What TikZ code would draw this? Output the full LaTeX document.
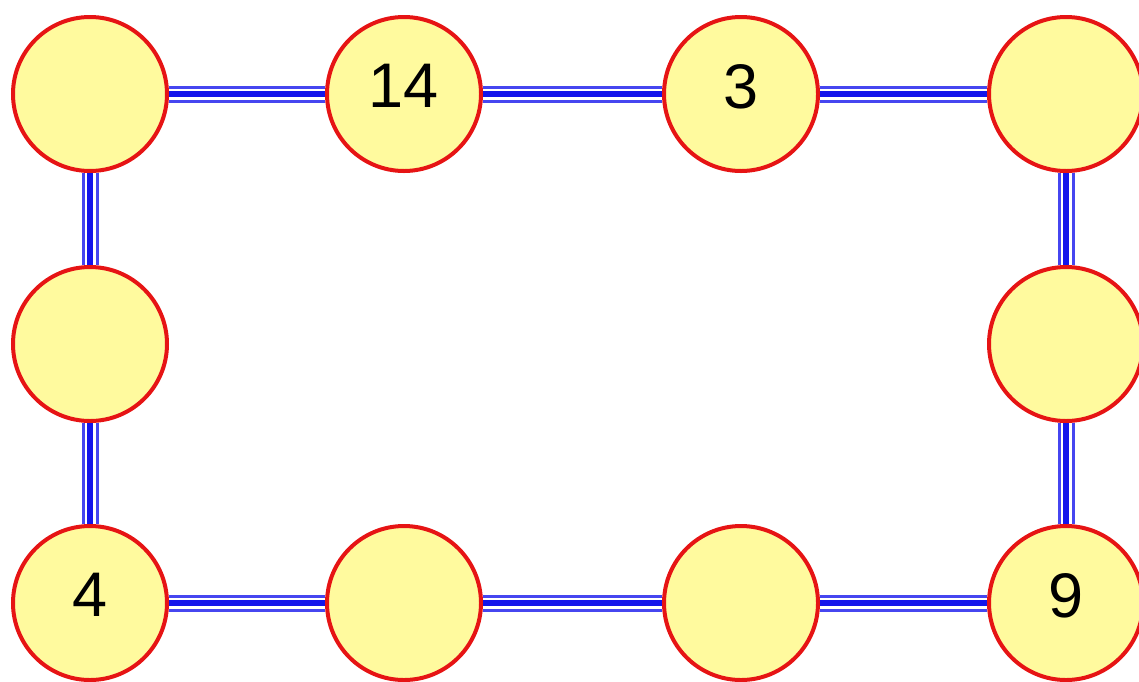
\documentclass[tikz,border=0pt]{standalone}
\usepackage{fontspec}
\setmainfont{Liberation Sans}
\definecolor{cfill}{RGB}{255,250,158}
\definecolor{cred}{RGB}{230,20,20}
\definecolor{cblue}{RGB}{20,20,235}
\definecolor{clblue}{RGB}{70,70,240}
\begin{document}
\begin{tikzpicture}[x=1pt,y=-1pt,
  cell/.style={circle, draw=cred, line width=4pt, fill=cfill, minimum size=154pt, inner sep=0pt,
    text depth=16pt, font=\fontsize{63}{70}\selectfont},
  conn/.style={draw=clblue, line width=17pt,
    postaction={draw=white, line width=11pt},
    postaction={draw=cblue, line width=6pt}}]
\useasboundingbox (0,0) rectangle (1139,681);
\node[cell] (a1) at (90,94) {};
\node[cell] (a2) at (404,94) {14};
\node[cell] (a3) at (741,94) {3};
\node[cell] (a4) at (1066,94) {};
\node[cell] (b1) at (90,344) {};
\node[cell] (b4) at (1066,344) {};
\node[cell] (c1) at (90,603) {4};
\node[cell] (c2) at (404,603) {};
\node[cell] (c3) at (741,603) {};
\node[cell] (c4) at (1066,603) {9};
\path[conn] (a1) -- (a2);
\path[conn] (a2) -- (a3);
\path[conn] (a3) -- (a4);
\path[conn] (a4) -- (b4);
\path[conn] (b4) -- (c4);
\path[conn] (c4) -- (c3);
\path[conn] (c3) -- (c2);
\path[conn] (c2) -- (c1);
\path[conn] (c1) -- (b1);
\path[conn] (b1) -- (a1);
\end{tikzpicture}
\end{document}
